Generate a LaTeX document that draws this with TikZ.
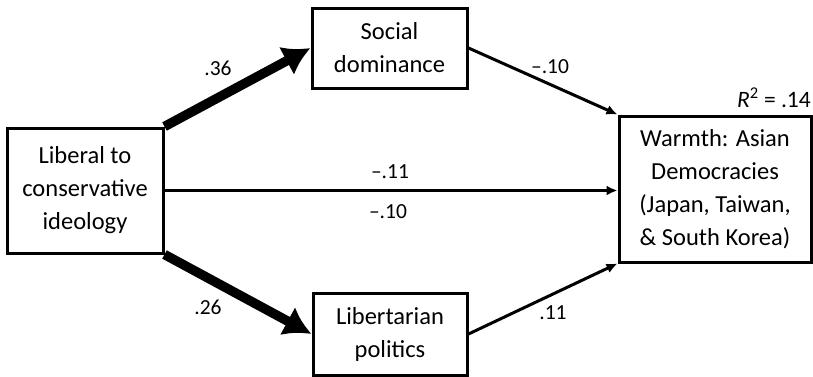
\documentclass[tikz,border=0pt]{standalone}
\usepackage{fontspec}
\setmainfont{Carlito}
\usetikzlibrary{arrows.meta}
\tikzset{
    varbox/.style={draw,line width=3pt,align=center,inner sep=0pt,font=\fontsize{24.5}{33}\selectfont},
    coef/.style={inner sep=0pt,font=\fontsize{21.5}{26}\selectfont},
    thinarr/.style={line width=3pt,-{Latex[length=11pt,width=10pt]}},
    thickarr/.style={line width=9.5pt,-{Latex[length=27pt,width=32pt]}}
}

\begin{document}
\begin{tikzpicture}[x=1pt,y=-1pt]
        \useasboundingbox (0,0) rectangle (813,376);
        %---
        \node[varbox,minimum width=156pt,minimum height=125pt] (v-ideo) at (85,190.5) {Liberal to\\conservative\\ideology};
        \node[varbox,minimum width=155pt,minimum height=80pt] (v-sd) at (389.5,48) {Social\\dominance};
        \node[varbox,minimum width=154pt,minimum height=82pt] (v-lib) at (390,334) {Libertarian\\politics};
        \node[varbox,minimum width=192pt,minimum height=146pt] (v-warm) at (715,189) {Warmth: Asian\\Democracies\\(Japan, Taiwan,\\\& South Korea)};

        %---
        \node[coef] (c-ideo-sd) at (218,68) {.36};
        \node[coef] (c-sd-warm) at (550,67) {–.10};
        \node[coef] (c-direct) at (390,172) {–.11};
        \node[coef] (c-total) at (388,212) {–.10};
        \node[coef] (c-ideo-lib) at (208,307) {.26};
        \node[coef] (c-lib-warm) at (553,313) {.11};
        \node[coef,anchor=east,font=\fontsize{23.5}{28}\selectfont] (r-sq) at (811,98) {\textit{R}\textsuperscript{2} = .14};

        \begin{scope}
            \draw (v-ideo.north east) edge[thickarr] (v-sd.west)
                (v-sd.east) edge[thinarr] (v-warm.north west);
            \draw (v-ideo.south east) edge[thickarr] (v-lib.west)
                (v-lib.east) edge[thinarr] (v-warm.south west);
            \draw (v-ideo.east) edge[thinarr] (v-ideo.east -| v-warm.west);
        \end{scope}
    \end{tikzpicture}
\end{document}
